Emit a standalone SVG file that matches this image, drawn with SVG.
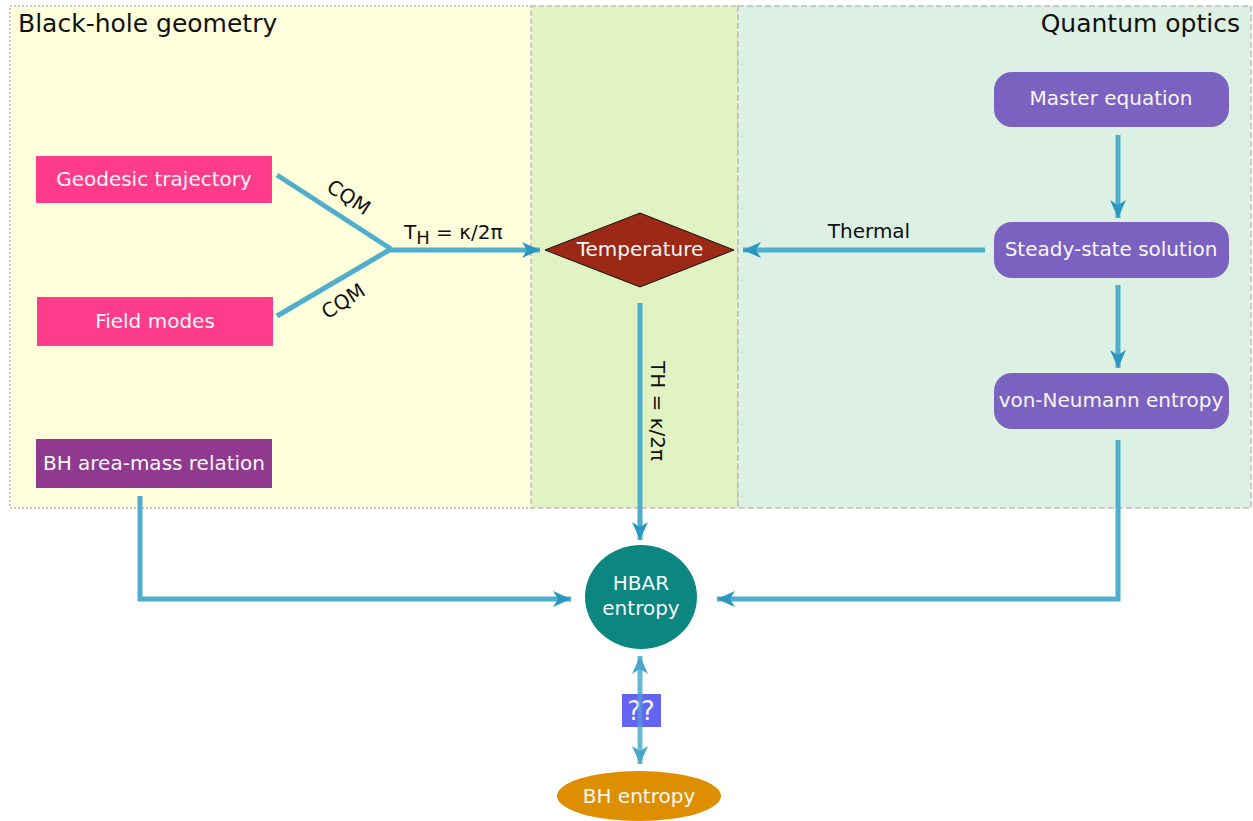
<svg xmlns="http://www.w3.org/2000/svg" width="1253" height="821" viewBox="0 0 1253 821">
<style>
.nt{font-family:"DejaVu Sans",Verdana,sans-serif;font-size:20px;fill:#f7f7f7;text-anchor:middle;}
.lbl{font-family:"DejaVu Sans",Verdana,sans-serif;font-size:20px;fill:#111;}
.ttl{font-family:"DejaVu Sans",Verdana,sans-serif;font-size:25px;fill:#111;}
.c{fill:none;stroke:#4eaecb;stroke-width:5;}
.pink{fill:#ff3b8b;}
.qo{fill:#7b62c0;}
</style>
<defs>
<marker id="ah" markerUnits="userSpaceOnUse" markerWidth="20" markerHeight="18" refX="18" refY="9" orient="auto-start-reverse" viewBox="0 0 20 18">
<path d="M0,1 L18,9 L0,17 L5,9 z" fill="#2a98c3"/>
</marker>
</defs>
<g id="panels">
<rect id="panel-bh" x="10" y="6" width="522" height="502" fill="#ffffdb" stroke="#bdbdbd" stroke-width="1.5" stroke-dasharray="2,2"/>
<rect id="panel-mid" x="531" y="6" width="207" height="502" fill="#e1f3c3" stroke="#bdbdbd" stroke-width="1.5" stroke-dasharray="5,3"/>
<rect id="panel-qo" x="738" y="6" width="513" height="502" fill="#dcf0e3" stroke="#bdbdbd" stroke-width="1.5" stroke-dasharray="6,3"/>
<text class="ttl" x="18" y="32">Black-hole geometry</text>
<text class="ttl" x="1240" y="32" text-anchor="end">Quantum optics</text>
</g>
<g id="connectors">
<path class="c" d="M277,175 L391,249"/>
<path class="c" d="M277,316 L391,249"/>
<path class="c" d="M390,250 L540,250" marker-end="url(#ah)"/>
<path class="c" d="M985,250 L743,250" marker-end="url(#ah)"/>
<path class="c" d="M640,303 L640,540" marker-end="url(#ah)"/>
<path class="c" d="M1118,135 L1118,218" marker-end="url(#ah)"/>
<path class="c" d="M1118,285 L1118,368" marker-end="url(#ah)"/>
<path class="c" d="M1118,440 L1118,599 L717,599" marker-end="url(#ah)"/>
<path class="c" d="M140,496 L140,599 L571,599" marker-end="url(#ah)"/>
<path class="c" d="M640,656 L640,764" opacity="0.85" marker-start="url(#ah)" marker-end="url(#ah)"/>
<text class="lbl" transform="translate(345,203) rotate(33)" text-anchor="middle">CQM</text>
<text class="lbl" transform="translate(347,307) rotate(-33)" text-anchor="middle">CQM</text>
<text class="lbl" x="404" y="239">T<tspan font-size="18" dy="5">H</tspan><tspan dy="-5"> = κ/2π</tspan></text>
<text class="lbl" x="869" y="238" text-anchor="middle">Thermal</text>
<text class="lbl" transform="translate(651,411) rotate(90)" text-anchor="middle">TH = κ/2π</text>
</g>
<g id="geodesic">
<rect class="pink" x="36" y="156" width="236" height="47"/>
<text class="nt" x="154" y="186">Geodesic trajectory</text>
</g>
<g id="field-modes">
<rect class="pink" x="37" y="297" width="236" height="49"/>
<text class="nt" x="155" y="328">Field modes</text>
</g>
<g id="bh-area">
<rect x="36" y="439" width="236" height="49" fill="#8f3a8f"/>
<text class="nt" x="154" y="470">BH area-mass relation</text>
</g>
<g id="temperature">
<polygon points="545,250 640,213 734,250 640,287" fill="#9b2915" stroke="#111" stroke-width="1"/>
<text class="nt" x="640" y="256">Temperature</text>
</g>
<g id="master">
<rect class="qo" x="994" y="72" width="235" height="55" rx="18"/>
<text class="nt" x="1111" y="105">Master equation</text>
</g>
<g id="steady">
<rect class="qo" x="994" y="222" width="235" height="56" rx="18"/>
<text class="nt" x="1111" y="256">Steady-state solution</text>
</g>
<g id="vonneumann">
<rect class="qo" x="994" y="373" width="235" height="56" rx="18"/>
<text class="nt" x="1111" y="407">von-Neumann entropy</text>
</g>
<g id="hbar">
<ellipse cx="641" cy="597" rx="56" ry="52" fill="#0b8680"/>
<text class="nt" x="641" y="590">HBAR</text>
<text class="nt" x="641" y="615">entropy</text>
</g>
<g id="qq">
<rect x="622" y="694" width="39" height="33" fill="#6464f2"/>
<text class="nt" x="641" y="720" style="font-size:26px">??</text>
<path d="M640,694 L640,727" stroke="#4eaecb" stroke-width="5" opacity="0.55" fill="none"/>
</g>
<g id="bh-entropy">
<ellipse cx="639" cy="796" rx="82" ry="25" fill="#de8f00"/>
<text class="nt" x="639" y="803">BH entropy</text>
</g>
</svg>
